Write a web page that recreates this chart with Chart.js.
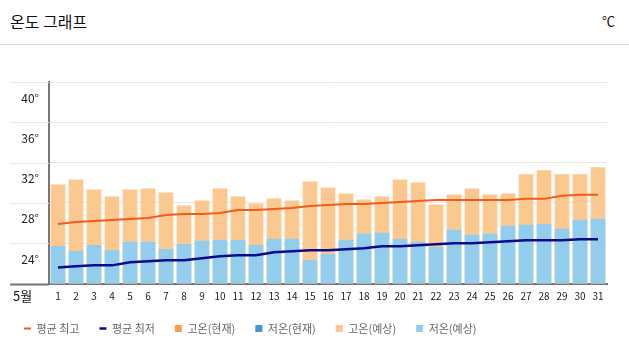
<!DOCTYPE html>
<html>
<head>
<meta charset="utf-8">
<script src="https://cdn.jsdelivr.net/npm/chart.js@4"></script>
<style>
html,body{margin:0;padding:0;background:#fff;}
#wrap{position:relative;width:629px;height:352px;overflow:hidden;font-family:"Noto Sans CJK KR","Noto Sans",sans-serif;}
#title{position:absolute;left:10px;top:12px;font-size:16px;line-height:18px;color:#111;}
#unit{position:absolute;left:602px;top:13px;font-size:13px;line-height:16px;color:#111;}
#hr{position:absolute;left:0;top:44px;width:629px;height:1px;background:#dedede;}
#month{position:absolute;left:13px;top:288px;font-size:13px;line-height:15px;color:#111;}
#c{position:absolute;left:0;top:0;}
</style>
</head>
<body>
<div id="wrap">
  <div id="title">온도 그래프</div>
  <div id="unit">℃</div>
  <div id="hr"></div>
  <canvas id="c" width="629" height="352"></canvas>
  <div id="month">5월</div>
</div>
<script>
const days = ['1','2','3','4','5','6','7','8','9','10','11','12','13','14','15','16','17','18','19','20','21','22','23','24','25','26','27','28','29','30','31'];
const avgHigh = [27.9,28.1,28.2,28.3,28.4,28.5,28.8,28.9,28.9,29.0,29.3,29.3,29.4,29.5,29.7,29.8,29.9,29.9,30.0,30.1,30.2,30.3,30.3,30.3,30.3,30.3,30.4,30.4,30.7,30.8,30.8];
const avgLow = [23.6,23.7,23.8,23.8,24.1,24.2,24.3,24.3,24.5,24.7,24.8,24.8,25.1,25.2,25.3,25.3,25.4,25.5,25.7,25.7,25.8,25.9,26.0,26.0,26.1,26.2,26.3,26.3,26.3,26.4,26.4];
const currentHigh = [];
const currentLow = [];
const forecastHigh = [31.8,32.3,31.3,30.6,31.3,31.4,31.0,29.7,30.2,31.4,30.6,29.9,30.4,30.2,32.1,31.5,30.9,30.3,30.6,32.3,32.0,29.8,30.8,31.4,30.8,30.9,32.8,33.2,32.8,32.8,33.5];
const forecastLow = [25.7,25.2,25.8,25.3,26.1,26.1,25.4,25.9,26.2,26.3,26.3,25.8,26.4,26.4,24.3,24.9,26.3,26.9,27.0,26.4,26.1,25.6,27.3,26.8,26.9,27.7,27.8,27.9,27.4,28.3,28.4];
const yTickLabels = ['', '24°', '28°', '32°', '36°', '40°'];

Chart.defaults.font.family = '"Noto Sans CJK KR","Noto Sans",sans-serif';

const extendLines = {
  id: 'extendLines',
  beforeDatasetsDraw(chart) {
    const {ctx, chartArea} = chart;
    const y = chart.scales.y;
    ctx.save();
    ctx.strokeStyle = '#e8e8e8';
    ctx.lineWidth = 1;
    y.ticks.forEach(t => {
      if (t.value === y.min) return;
      const py = Math.round(y.getPixelForValue(t.value)) + 0.5;
      ctx.beginPath(); ctx.moveTo(10, py); ctx.lineTo(chartArea.left, py); ctx.stroke();
    });
    ctx.strokeStyle = '#777';
    ctx.lineWidth = 2;
    const by = chartArea.bottom + 1;
    ctx.beginPath(); ctx.moveTo(10, by); ctx.lineTo(chartArea.left, by); ctx.stroke();
    ctx.restore();
  }
};

const barCommon = { barThickness: 14, borderWidth: 0, pointStyle: 'rect' };

new Chart(document.getElementById('c'), {
  type: 'bar',
  data: {
    labels: days,
    datasets: [
      { type: 'line', label: '평균 최고', data: avgHigh, borderColor: '#f25c1a', backgroundColor: '#f25c1a', borderWidth: 2, pointRadius: 0, tension: 0, order: 0, pointStyle: 'line' },
      { type: 'line', label: '평균 최저', data: avgLow, borderColor: '#0a0a8c', backgroundColor: '#0a0a8c', borderWidth: 2.5, pointRadius: 0, tension: 0, order: 0, pointStyle: 'line' },
      Object.assign({ label: '고온(현재)', data: currentHigh, backgroundColor: '#f79d4c', borderColor: '#f79d4c', order: 2 }, barCommon),
      Object.assign({ label: '저온(현재)', data: currentLow, backgroundColor: '#3b9bd6', borderColor: '#3b9bd6', order: 1 }, barCommon),
      Object.assign({ label: '고온(예상)', data: forecastHigh, backgroundColor: '#fbc88f', borderColor: '#fbc88f', order: 2 }, barCommon),
      Object.assign({ label: '저온(예상)', data: forecastLow, backgroundColor: '#93cdee', borderColor: '#93cdee', order: 1 }, barCommon)
    ]
  },
  options: {
    responsive: false,
    animation: false,
    layout: { padding: { top: 82, left: 4, right: 22, bottom: 8 } },
    plugins: {
      tooltip: { enabled: false },
      legend: {
        position: 'bottom',
        align: 'start',
        labels: {
          usePointStyle: true,
          pointStyleWidth: 7,
          boxHeight: 7,
          padding: 20,
          color: '#666',
          font: { size: 11 },
          sort: (a, b) => a.datasetIndex - b.datasetIndex
        }
      }
    },
    scales: {
      x: {
        stacked: true,
        grid: { display: false, drawTicks: false },
        border: { display: true, color: '#777', width: 2 },
        ticks: { color: '#222', font: { size: 10 }, padding: 7, maxRotation: 0, autoSkip: false },
        afterFit: (s) => { s.height = 19.5; }
      },
      y: {
        stacked: false,
        min: 22,
        max: 42,
        grid: { color: '#e8e8e8', drawTicks: false },
        border: { display: true, color: '#777', width: 2 },
        ticks: {
          stepSize: 4,
          color: '#222',
          font: { size: 12 },
          padding: 10,
          labelOffset: 16,
          callback: (v, i) => yTickLabels[i]
        },
        afterFit: (s) => { s.width = 45; }
      }
    }
  },
  plugins: [extendLines]
});
</script>
</body>
</html>
